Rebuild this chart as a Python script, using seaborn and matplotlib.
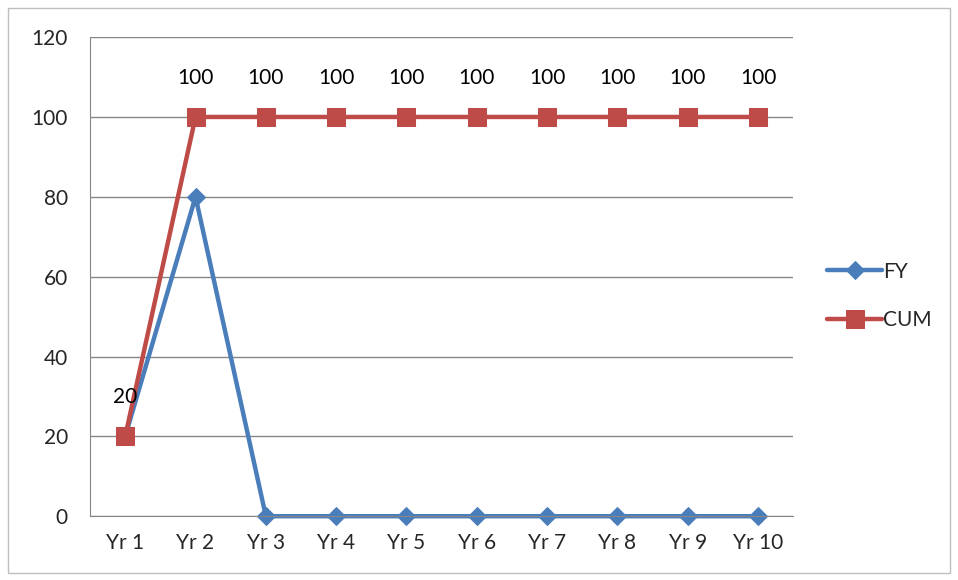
import numpy as np
import pandas as pd
import matplotlib
matplotlib.use("Agg")
import matplotlib.pyplot as plt
import seaborn as sns
from matplotlib.patches import Rectangle

years = ["Yr 1", "Yr 2", "Yr 3", "Yr 4", "Yr 5", "Yr 6", "Yr 7", "Yr 8", "Yr 9", "Yr 10"]
fy = [20, 80, 0, 0, 0, 0, 0, 0, 0, 0]
cum = [20, 100, 100, 100, 100, 100, 100, 100, 100, 100]

sns.set_style("white")
plt.rcParams["font.family"] = ["Lato", "DejaVu Sans"]

blue = "#4A7EBB"
red = "#BE4B48"
grid_c = "#868686"
fs = 15

fig = plt.figure(figsize=(9.58, 5.8), dpi=100)
ax = fig.add_axes([0.094, 0.110, 0.734, 0.826])

pos = np.arange(len(years))
df = pd.DataFrame({"pos": pos, "FY": fy, "CUM": cum})

sns.lineplot(data=df, x="pos", y="FY", ax=ax, color=blue, linewidth=3.2,
             marker="D", markersize=9.5, markeredgecolor=blue, label="FY")
sns.lineplot(data=df, x="pos", y="CUM", ax=ax, color=red, linewidth=3.2,
             marker="s", markersize=12.5, markeredgecolor=red, label="CUM")
for ln in ax.lines:
    ln.set_clip_on(False)

for x, v in zip(pos, cum):
    ax.annotate(str(v), (x, v), xytext=(0, 28), textcoords="offset points",
                ha="center", va="center", fontsize=fs, color="black")

ax.set_xlim(-0.5, len(years) - 0.5)
ax.set_ylim(0, 120)
ax.set_yticks(range(0, 121, 20))
ax.set_xticks(pos)
ax.set_xticklabels(years)
ax.set_xticks(np.arange(-0.5, len(years), 1), minor=True)
ax.tick_params(axis="x", which="major", length=0, pad=12, labelsize=fs)
ax.tick_params(axis="x", which="minor", length=6, color=grid_c, width=1, direction="out")
ax.tick_params(axis="y", length=6, color=grid_c, width=1, direction="out", pad=10, labelsize=fs)
ax.set_xlabel("")
ax.set_ylabel("")

ax.yaxis.grid(True, color=grid_c, linewidth=1)
ax.set_axisbelow(True)
for s in ["top", "right"]:
    ax.spines[s].set_visible(False)
ax.spines["left"].set_color(grid_c)
ax.spines["bottom"].set_color(grid_c)

leg = ax.legend(loc="center left", bbox_to_anchor=(1.022, 0.46), frameon=False,
                fontsize=fs, handlelength=2.6, handletextpad=0.05, labelspacing=1.35)

fig.patches.append(Rectangle((0.008, 0.012), 0.984, 0.975, transform=fig.transFigure,
                             fill=False, edgecolor="#BFBFBF", linewidth=1))

fig.savefig("out.png", dpi=100)
